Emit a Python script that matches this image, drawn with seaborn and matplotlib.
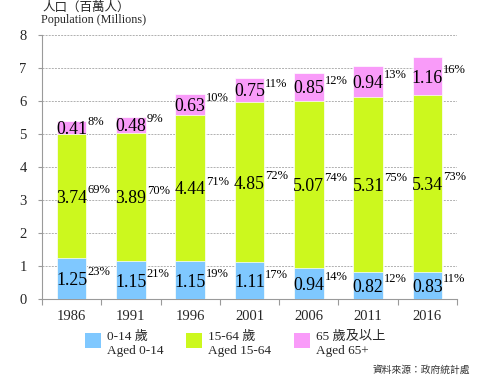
import numpy as np
import pandas as pd
import matplotlib
matplotlib.use("Agg")
import matplotlib.pyplot as plt
import seaborn as sns
from matplotlib.patches import Patch, Rectangle
from matplotlib.legend_handler import HandlerBase

# ---------------- data ----------------
years = ["1986", "1991", "1996", "2001", "2006", "2011", "2016"]
aged_0_14 = [1.25, 1.15, 1.15, 1.11, 0.94, 0.82, 0.83]
aged_15_64 = [3.74, 3.89, 4.44, 4.85, 5.07, 5.31, 5.34]
aged_65_plus = [0.41, 0.48, 0.63, 0.75, 0.85, 0.94, 1.16]
pct_0_14 = ["23%", "21%", "19%", "17%", "14%", "12%", "11%"]
pct_15_64 = ["69%", "70%", "71%", "72%", "74%", "75%", "73%"]
pct_65_plus = ["8%", "9%", "10%", "11%", "12%", "13%", "16%"]
legend_labels = ["0-14 歲\nAged 0-14", "15-64 歲\nAged 15-64", "65 歲及以上\nAged 65+"]
title_zh = "人口（百萬人）"
title_en = "Population (Millions)"
source_text = "資料來源：政府統計處"
yticks = [0, 1, 2, 3, 4, 5, 6, 7, 8]

c_blue = "#7FC8FF"
c_green = "#CCF81E"
c_pink = "#F99BF9"

sns.set_style("white")
plt.rcParams["font.family"] = ["Liberation Serif", "Noto Sans CJK TC"]

df = pd.DataFrame({
    "year": years,
    "young": aged_0_14,
    "working": aged_15_64,
    "old": aged_65_plus,
})
df["mid_top"] = df["young"] + df["working"]
df["total"] = df["mid_top"] + df["old"]

fig = plt.figure(figsize=(5.0, 3.83), dpi=100)
ax = fig.add_axes([42 / 500, 1 - 299 / 383, (457 - 42) / 500, (299 - 35) / 383])

# stacked bars via overlay of cumulative totals
sns.barplot(data=df, x="year", y="total", order=years, color=c_pink, width=0.5,
            saturation=1, ax=ax, edgecolor="white", linewidth=0.5, zorder=2)
sns.barplot(data=df, x="year", y="mid_top", order=years, color=c_green, width=0.5,
            saturation=1, ax=ax, edgecolor="white", linewidth=0.5, zorder=3)
sns.barplot(data=df, x="year", y="young", order=years, color=c_blue, width=0.5,
            saturation=1, ax=ax, edgecolor="white", linewidth=0.5, zorder=4)

ax.set_xlim(-0.5, len(years) - 0.5)
ax.set_ylim(0, 8)
ax.set_yticks(yticks)
ax.set_xlabel("")
ax.set_ylabel("")

# labels
for i in range(len(years)):
    bottoms = [0, df["young"][i], df["mid_top"][i]]
    vals = [aged_0_14[i], aged_15_64[i], aged_65_plus[i]]
    pcts = [pct_0_14[i], pct_15_64[i], pct_65_plus[i]]
    for b, v, p in zip(bottoms, vals, pcts):
        c = b + v / 2
        ax.text(i, c, f"{v:.2f}", ha="center", va="center_baseline",
                fontsize=12.8, color="black", zorder=6)
        ax.text(i + 0.265, c, p, ha="left", va="bottom",
                fontsize=9, color="black", zorder=6)

# grid and spines
ax.yaxis.grid(True, color="#b0b0b0", linestyle=(0, (2, 1.2)), linewidth=0.7, zorder=0)
ax.xaxis.grid(False)
ax.set_axisbelow(True)
for s in ["top", "right"]:
    ax.spines[s].set_visible(False)
for s in ["left", "bottom"]:
    ax.spines[s].set_color("#9a9a9a")
    ax.spines[s].set_linewidth(0.8)

ax.tick_params(axis="y", which="major", length=3, width=0.8, color="#9a9a9a",
               pad=8, labelsize=10.5, left=True)
ax.tick_params(axis="x", which="major", length=0, pad=8, labelsize=10.5)
ax.set_xticks(np.arange(-0.5, len(years)), minor=True)
ax.tick_params(axis="x", which="minor", length=4, width=0.8, color="#9a9a9a",
               bottom=True, direction="out")


# legend with square aligned to first line
class TopSquare(HandlerBase):
    def create_artists(self, legend, orig_handle, xdescent, ydescent, width, height,
                       fontsize, trans):
        sh = width * 0.92
        r = Rectangle((-xdescent, -ydescent + height - sh), width, sh,
                      facecolor=orig_handle.get_facecolor(), edgecolor="none",
                      transform=trans)
        return [r]


handles = [Patch(facecolor=c_blue), Patch(facecolor=c_green), Patch(facecolor=c_pink)]
fig.legend(handles, legend_labels, loc="upper left",
           bbox_to_anchor=(85 / 500, 1 - 331 / 383), ncol=3, frameon=False,
           fontsize=9.5, handlelength=1.2, handleheight=2.2, handletextpad=0.45,
           columnspacing=1.75, borderpad=0, borderaxespad=0,
           handler_map={Patch: TopSquare()})

# titles and source
fig.text(42 / 500, 1 - 7.5 / 383, title_zh, ha="left", va="center", fontsize=9,
         family=["Noto Sans CJK TC", "Liberation Serif"])
fig.text(41 / 500, 1 - 20 / 383, title_en, ha="left", va="center", fontsize=8.7)
fig.text(470 / 500, 1 - 370 / 383, source_text, ha="right", va="center", fontsize=7,
         family=["Noto Sans CJK TC", "Liberation Serif"], color="#333333")

fig.savefig("out.png", dpi=100)
